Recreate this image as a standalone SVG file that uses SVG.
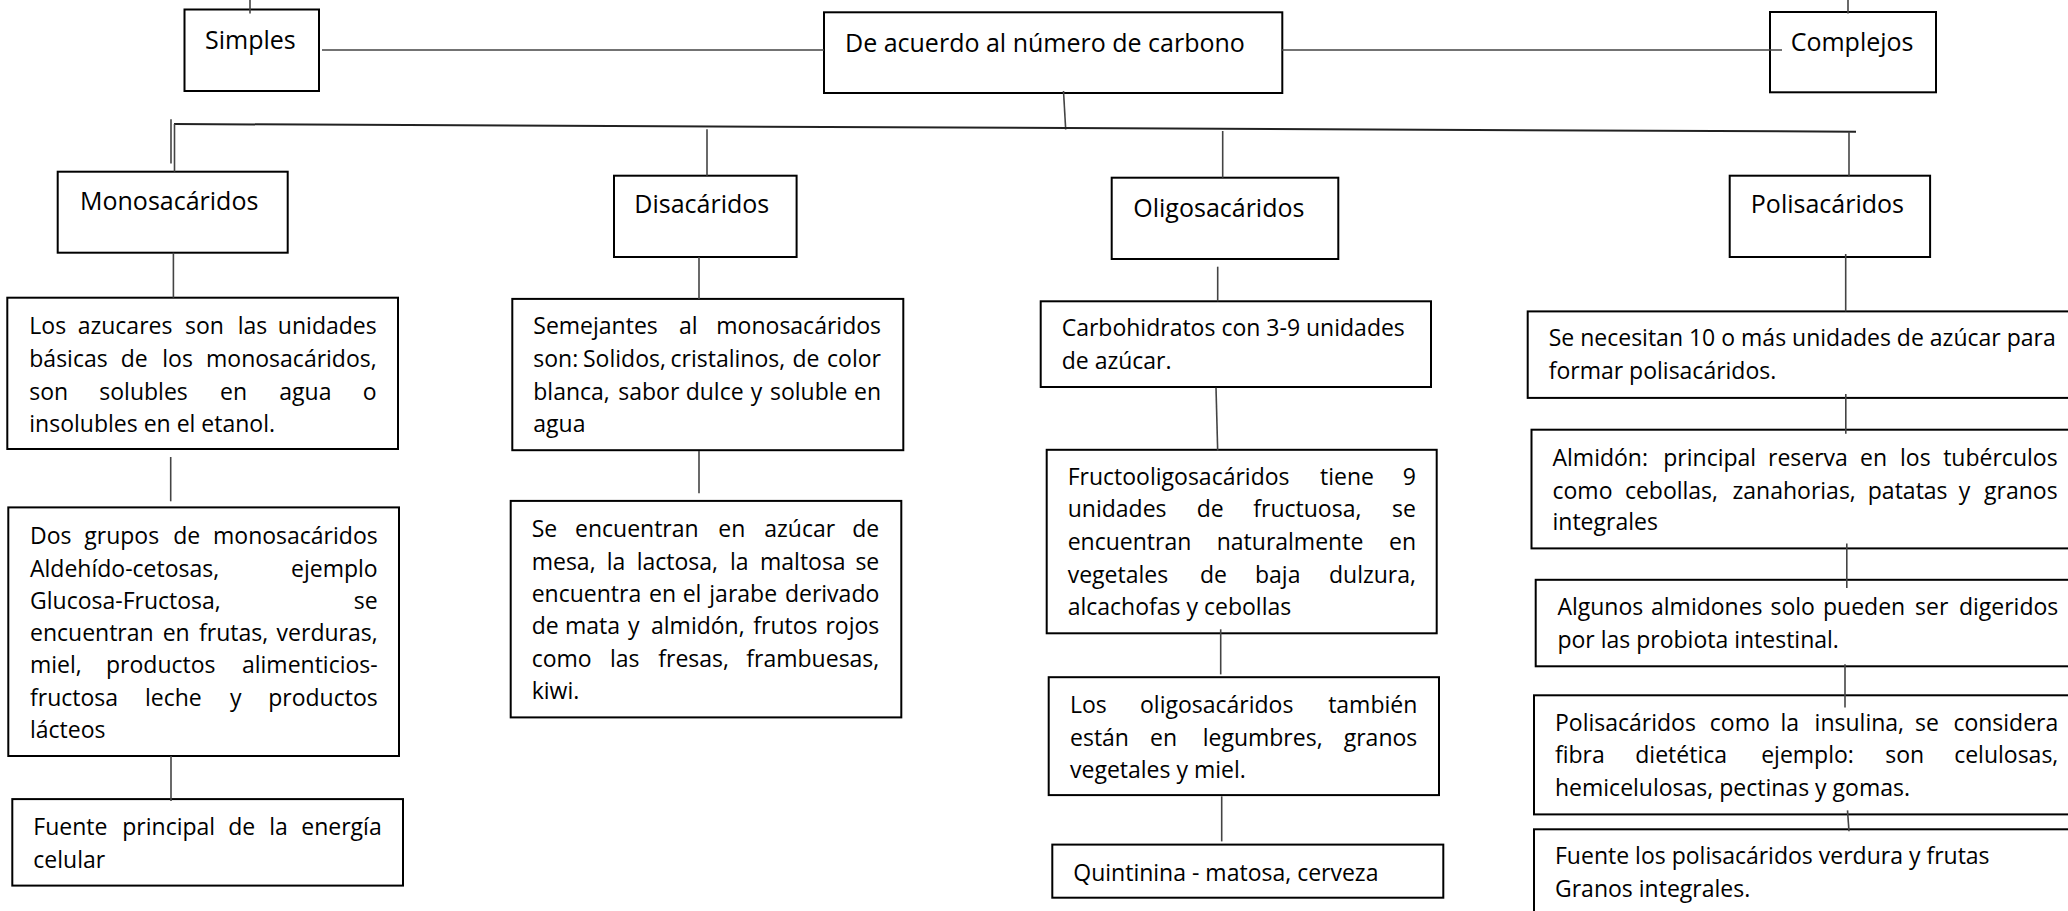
<svg xmlns="http://www.w3.org/2000/svg" width="2068" height="911" viewBox="0 0 2068 911">
<style>
.bx{fill:#fff;stroke:#000;stroke-width:2}
.h{font-family:"Open Sans","Liberation Sans",sans-serif;font-size:25px;fill:#000}
.t{font-family:"Open Sans","Liberation Sans",sans-serif;font-size:23px;fill:#000}
.e{text-anchor:end}
#connectors line{stroke:#444;stroke-width:1.6;fill:none}
</style>
<rect width="2068" height="911" fill="#fff"/>
<g id="nodes">
<g id="simples"><rect class="bx" x="184.5" y="9.5" width="134.5" height="81.5"/><text class="h" x="205" y="48.5">Simples</text></g>
<g id="acuerdo"><rect class="bx" x="824" y="12.3" width="458.3" height="80.7"/><text class="h" x="845" y="51.7">De acuerdo al número de carbono</text></g>
<g id="complejos"><rect class="bx" x="1770" y="12" width="166" height="80.3"/><text class="h" x="1790.7" y="51">Complejos</text></g>
<g id="mono"><rect class="bx" x="57.7" y="171.7" width="230" height="81"/><text class="h" x="80" y="210">Monosacáridos</text></g>
<g id="di"><rect class="bx" x="614" y="175.7" width="182.6" height="81.3"/><text class="h" x="634.3" y="213.3">Disacáridos</text></g>
<g id="oligo"><rect class="bx" x="1111.7" y="177.7" width="226.6" height="81.3"/><text class="h" x="1133.3" y="216.7">Oligosacáridos</text></g>
<g id="poli"><rect class="bx" x="1729.7" y="175.7" width="200.4" height="81.3"/><text class="h" x="1750.8" y="213.3">Polisacáridos</text></g>

<g id="mono1"><rect class="bx" x="7.3" y="297.7" width="390.7" height="151.3"/>
<text class="t" y="333.5"><tspan x="29.3">Los</tspan><tspan x="77.7">azucares</tspan><tspan x="185">son</tspan><tspan x="237.7">las</tspan><tspan x="376.7" class="e">unidades</tspan></text>
<text class="t" y="366.5"><tspan x="29.3">básicas</tspan><tspan x="120.7">de</tspan><tspan x="162.3">los</tspan><tspan x="376.7" class="e">monosacáridos,</tspan></text>
<text class="t" y="399.9"><tspan x="29.3">son</tspan><tspan x="99.3">solubles</tspan><tspan x="220">en</tspan><tspan x="279.3">agua</tspan><tspan x="376.7" class="e">o</tspan></text>
<text class="t" x="29.3" y="432.1">insolubles en el etanol.</text></g>

<g id="mono2"><rect class="bx" x="8.3" y="507.4" width="390.7" height="248.6"/>
<text class="t" y="543.6"><tspan x="30">Dos</tspan><tspan x="84.3">grupos</tspan><tspan x="173.3">de</tspan><tspan x="377.7" class="e">monosacáridos</tspan></text>
<text class="t" y="576.6"><tspan x="30">Aldehído-cetosas,</tspan><tspan x="377.7" class="e">ejemplo</tspan></text>
<text class="t" y="608.8"><tspan x="30">Glucosa-Fructosa,</tspan><tspan x="377.7" class="e">se</tspan></text>
<text class="t" y="641"><tspan x="30">encuentran</tspan><tspan x="162.7">en</tspan><tspan x="199">frutas,</tspan><tspan x="377.7" class="e">verduras,</tspan></text>
<text class="t" y="673.2"><tspan x="30">miel,</tspan><tspan x="106">productos</tspan><tspan x="377.7" class="e">alimenticios-</tspan></text>
<text class="t" y="705.8"><tspan x="30">fructosa</tspan><tspan x="145">leche</tspan><tspan x="230">y</tspan><tspan x="377.7" class="e">productos</tspan></text>
<text class="t" x="30" y="738">lácteos</text></g>

<g id="mono3"><rect class="bx" x="12.3" y="799.1" width="390.7" height="86.5"/>
<text class="t" y="835.3"><tspan x="33.3">Fuente</tspan><tspan x="122.3">principal</tspan><tspan x="228.3">de</tspan><tspan x="269.3">la</tspan><tspan x="381.7" class="e">energía</tspan></text>
<text class="t" x="33.3" y="867.5">celular</text></g>

<g id="di1"><rect class="bx" x="512.3" y="298.9" width="391" height="151.3"/>
<text class="t" y="334.3"><tspan x="533.3">Semejantes</tspan><tspan x="679">al</tspan><tspan x="881" class="e">monosacáridos</tspan></text>
<text class="t" y="367.3"><tspan x="533.3">son:</tspan><tspan x="583">Solidos,</tspan><tspan x="670.5">cristalinos,</tspan><tspan x="792.5">de</tspan><tspan x="881" class="e">color</tspan></text>
<text class="t" y="399.5"><tspan x="533.3">blanca,</tspan><tspan x="618.3">sabor</tspan><tspan x="685.7">dulce</tspan><tspan x="750.7">y</tspan><tspan x="770">soluble</tspan><tspan x="881" class="e">en</tspan></text>
<text class="t" x="533.3" y="432.1">agua</text></g>

<g id="di2"><rect class="bx" x="510.7" y="500.9" width="390.6" height="216.5"/>
<text class="t" y="536.7"><tspan x="531.7">Se</tspan><tspan x="575">encuentran</tspan><tspan x="718.3">en</tspan><tspan x="764.3">azúcar</tspan><tspan x="879.3" class="e">de</tspan></text>
<text class="t" y="569.7"><tspan x="531.7">mesa,</tspan><tspan x="606.7">la</tspan><tspan x="636.7">lactosa,</tspan><tspan x="730">la</tspan><tspan x="760">maltosa</tspan><tspan x="879.3" class="e">se</tspan></text>
<text class="t" y="602"><tspan x="531.7">encuentra</tspan><tspan x="649">en</tspan><tspan x="682.7">el</tspan><tspan x="709.3">jarabe</tspan><tspan x="879.3" class="e">derivado</tspan></text>
<text class="t" y="634.1"><tspan x="531.7">de</tspan><tspan x="565">mata</tspan><tspan x="628">y</tspan><tspan x="651">almidón,</tspan><tspan x="753.3">frutos</tspan><tspan x="879.3" class="e">rojos</tspan></text>
<text class="t" y="667.1"><tspan x="531.7">como</tspan><tspan x="610">las</tspan><tspan x="658.3">fresas,</tspan><tspan x="879.3" class="e">frambuesas,</tspan></text>
<text class="t" x="531.7" y="698.5">kiwi.</text></g>

<g id="ol1"><rect class="bx" x="1040.7" y="301.3" width="390.3" height="85.7"/>
<text class="t" x="1061.7" y="336.3">Carbohidratos con 3-9 unidades</text>
<text class="t" x="1061.7" y="368.5">de azúcar.</text></g>

<g id="ol2"><rect class="bx" x="1046.7" y="449.8" width="390" height="183.5"/>
<text class="t" y="485.2"><tspan x="1067.7">Fructooligosacáridos</tspan><tspan x="1320">tiene</tspan><tspan x="1416" class="e">9</tspan></text>
<text class="t" y="517.4"><tspan x="1067.7">unidades</tspan><tspan x="1196.7">de</tspan><tspan x="1253.3">fructuosa,</tspan><tspan x="1416" class="e">se</tspan></text>
<text class="t" y="549.6"><tspan x="1067.7">encuentran</tspan><tspan x="1216.7">naturalmente</tspan><tspan x="1416" class="e">en</tspan></text>
<text class="t" y="582.6"><tspan x="1067.7">vegetales</tspan><tspan x="1200">de</tspan><tspan x="1255">baja</tspan><tspan x="1416" class="e">dulzura,</tspan></text>
<text class="t" x="1067.7" y="614.8">alcachofas y cebollas</text></g>

<g id="ol3"><rect class="bx" x="1048.7" y="677.2" width="390.3" height="117.9"/>
<text class="t" y="712.6"><tspan x="1070">Los</tspan><tspan x="1140">oligosacáridos</tspan><tspan x="1417.3" class="e">también</tspan></text>
<text class="t" y="745.6"><tspan x="1070">están</tspan><tspan x="1150">en</tspan><tspan x="1202.7">legumbres,</tspan><tspan x="1417.3" class="e">granos</tspan></text>
<text class="t" x="1070" y="777.8">vegetales y miel.</text></g>

<g id="ol4"><rect class="bx" x="1052.3" y="844.6" width="391" height="53.1"/>
<text class="t" x="1073.3" y="880.8">Quintinina - matosa, cerveza</text></g>

<g id="p1"><rect class="bx" x="1527.7" y="311.4" width="547.3" height="86.5"/>
<text class="t" x="1548.7" y="346.4">Se necesitan 10 o más unidades de azúcar para</text>
<text class="t" x="1548.7" y="379.4">formar polisacáridos.</text></g>

<g id="p2"><rect class="bx" x="1531.5" y="429.7" width="545" height="118.7"/>
<text class="t" y="465.9"><tspan x="1552.5">Almidón:</tspan><tspan x="1663.3">principal</tspan><tspan x="1768">reserva</tspan><tspan x="1860">en</tspan><tspan x="1900">los</tspan><tspan x="2057.6" class="e">tubérculos</tspan></text>
<text class="t" y="499.3"><tspan x="1552.5">como</tspan><tspan x="1624.9">cebollas,</tspan><tspan x="1732.5">zanahorias,</tspan><tspan x="1867.8">patatas</tspan><tspan x="1958.7">y</tspan><tspan x="2057.6" class="e">granos</tspan></text>
<text class="t" x="1552.5" y="530.3">integrales</text></g>

<g id="p3"><rect class="bx" x="1535.7" y="579.8" width="545" height="86.5"/>
<text class="t" y="614.8"><tspan x="1557.4">Algunos</tspan><tspan x="1651">almidones</tspan><tspan x="1770.5">solo</tspan><tspan x="1823">pueden</tspan><tspan x="1915">ser</tspan><tspan x="2058.3" class="e">digeridos</tspan></text>
<text class="t" x="1557.4" y="648.2">por las probiota intestinal.</text></g>

<g id="p4"><rect class="bx" x="1534" y="695.3" width="545" height="119.1"/>
<text class="t" y="730.7"><tspan x="1555">Polisacáridos</tspan><tspan x="1709.8">como</tspan><tspan x="1780.4">la</tspan><tspan x="1814.6">insulina,</tspan><tspan x="1915">se</tspan><tspan x="2058.3" class="e">considera</tspan></text>
<text class="t" y="762.9"><tspan x="1555">fibra</tspan><tspan x="1635.3">dietética</tspan><tspan x="1761.2">ejemplo:</tspan><tspan x="1885.3">son</tspan><tspan x="2058.3" class="e">celulosas,</tspan></text>
<text class="t" x="1555" y="795.9">hemicelulosas, pectinas y gomas.</text></g>

<g id="p5"><rect class="bx" x="1534" y="829.3" width="545" height="95"/>
<text class="t" x="1555" y="864.3">Fuente los polisacáridos verdura y frutas</text>
<text class="t" x="1555" y="896.5">Granos integrales.</text></g>
</g>

<g id="connectors">
<line x1="250" y1="0" x2="250" y2="13.5"/>
<line x1="1848" y1="0" x2="1848" y2="13.5"/>
<line x1="322" y1="50" x2="824" y2="50"/>
<line x1="1282" y1="50" x2="1782" y2="50"/>
<line x1="1063.5" y1="91" x2="1065.7" y2="129.5"/>
<line x1="174" y1="124" x2="1856" y2="131.7" style="stroke:#222;stroke-width:2"/>
<line x1="171" y1="119.3" x2="171" y2="163.5"/>
<line x1="174.5" y1="124" x2="174.5" y2="171.7"/>
<line x1="707" y1="129.3" x2="707" y2="175.7"/>
<line x1="1222.7" y1="131" x2="1222.7" y2="177.7"/>
<line x1="1849" y1="131.7" x2="1849" y2="175.7"/>
<line x1="173.4" y1="252.7" x2="173.4" y2="297.7"/>
<line x1="699" y1="257" x2="699" y2="298.9"/>
<line x1="1217.7" y1="266.7" x2="1217.7" y2="301.3"/>
<line x1="1845.7" y1="254" x2="1845.7" y2="311.4"/>
<line x1="170.7" y1="457" x2="170.7" y2="501.3"/>
<line x1="171" y1="756" x2="171" y2="801"/>
<line x1="699" y1="451" x2="699" y2="493.3"/>
<line x1="1216" y1="387.8" x2="1217.7" y2="451"/>
<line x1="1220.7" y1="629.3" x2="1220.7" y2="674.4"/>
<line x1="1221.7" y1="796.3" x2="1221.7" y2="841.4"/>
<line x1="1845.8" y1="393.9" x2="1845.8" y2="433.7"/>
<line x1="1846.8" y1="543.6" x2="1846.8" y2="587.9"/>
<line x1="1845" y1="664.3" x2="1845" y2="707.4"/>
<line x1="1847.5" y1="810.4" x2="1849" y2="831.3"/>
</g>
</svg>
